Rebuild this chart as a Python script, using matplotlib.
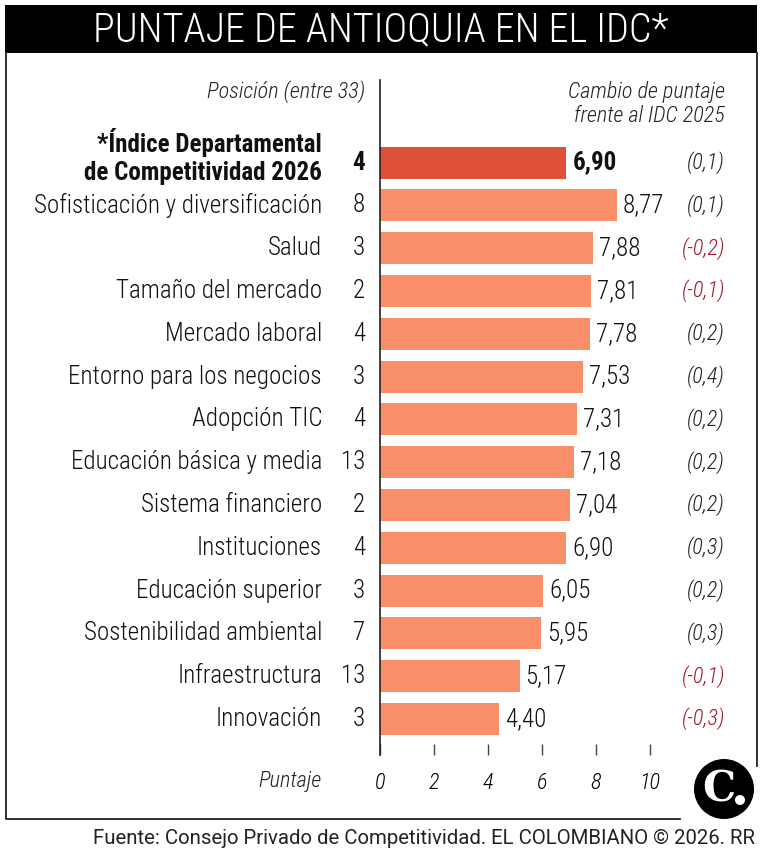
import matplotlib
matplotlib.use("Agg")
import matplotlib.pyplot as plt
from matplotlib import font_manager
from matplotlib.patches import Rectangle, Circle


def pick_font(names):
    for n in names:
        try:
            font_manager.findfont(n, fallback_to_default=False)
            return n
        except Exception:
            pass
    return "DejaVu Sans"


COND = pick_font(["Roboto Condensed", "Liberation Sans Narrow", "Roboto"])
REG = pick_font(["Roboto", "DejaVu Sans"])

categorias = [
    "*Índice Departamental\nde Competitividad 2026",
    "Sofisticación y diversificación",
    "Salud",
    "Tamaño del mercado",
    "Mercado laboral",
    "Entorno para los negocios",
    "Adopción TIC",
    "Educación básica y media",
    "Sistema financiero",
    "Instituciones",
    "Educación superior",
    "Sostenibilidad ambiental",
    "Infraestructura",
    "Innovación",
]
posicion = [4, 8, 3, 2, 4, 3, 4, 13, 2, 4, 3, 7, 13, 3]
puntaje = [6.90, 8.77, 7.88, 7.81, 7.78, 7.53, 7.31, 7.18, 7.04, 6.90, 6.05, 5.95, 5.17, 4.40]
cambio = [0.1, 0.1, -0.2, -0.1, 0.2, 0.4, 0.2, 0.2, 0.2, 0.3, 0.2, 0.3, -0.1, -0.3]
ticks = [0, 2, 4, 6, 8, 10]

W, H = 762, 859
fig = plt.figure(figsize=(W / 100, H / 100), dpi=100)

# overlay for frame, title, footer, logo (pixel coords)
bg = fig.add_axes([0, 0, 1, 1], zorder=0)
bg.set_xlim(0, W)
bg.set_ylim(H, 0)
bg.axis("off")
bg.add_patch(Rectangle((5, 5), 752, 48, color="black", lw=0))
bg.plot([6, 6, 680], [53, 819, 819], color="#222222", lw=1.3)
bg.plot([756.5, 756.5], [53, 766], color="#222222", lw=1.3)
bg.text(381, 30, "PUNTAJE DE ANTIOQUIA EN EL IDC*", color="white",
        fontsize=29, family=COND, weight="light", ha="center", va="center")
bg.text(755, 839, "Fuente: Consejo Privado de Competitividad. EL COLOMBIANO © 2026. RR",
        fontsize=14.7, family=REG, ha="right", va="center", color="#222222")
bg.add_patch(Circle((724, 789), 30, color="black", lw=0))
bg.text(719, 790, "C", color="white", fontsize=30, family="DejaVu Serif",
        weight="bold", ha="center", va="center")
bg.add_patch(Circle((740, 800), 5, color="white", lw=0))

# bar axes: x=0 at 380 px, 27 px per unit; rows at 162.5 + 42.8*i px
left, right, top, bottom = 380, 730, 80, 755
y0 = 162.5
ax = fig.add_axes([left / W, 1 - bottom / H, (right - left) / W, (bottom - top) / H], zorder=1)
ax.set_xlim(0, (right - left) / 27)
ax.set_ylim((bottom - y0) / 42.8, (top - y0) / 42.8)
ax.patch.set_alpha(0)
for s in ["top", "right", "bottom"]:
    ax.spines[s].set_visible(False)
ax.spines["left"].set_color("#222222")
ax.spines["left"].set_linewidth(1.2)
ax.set_yticks([])
ax.set_xticks(ticks)
ax.set_xticklabels([str(t) for t in ticks], family=COND, style="italic",
                   weight="light", fontsize=16)
ax.tick_params(axis="x", direction="in", length=8, width=1, color="#444444", pad=12)

px = 1 / 27  # one pixel in data units
py = 1 / 42.8
colors = ["#DE5039"] + ["#F98F68"] * (len(puntaje) - 1)
ax.barh(range(len(puntaje)), puntaje, height=32 / 42.8, color=colors, edgecolor="none")

for i, (cat, pos, val, ch) in enumerate(zip(categorias, posicion, puntaje, cambio)):
    bold = i == 0
    w = "bold" if bold else "light"
    ax.text(-58 * px, i - (6 * py if bold else 0), cat, ha="right", va="center",
            fontsize=18, family=COND, weight=w, clip_on=False, color="#111111",
            linespacing=1.2)
    ax.text(-15 * px, i, str(pos), ha="right", va="center", fontsize=18, family=COND,
            weight=w, clip_on=False, color="#111111")
    ax.text(val + 6 * px, i, f"{val:.2f}".replace(".", ","), ha="left", va="center",
            fontsize=18, family=COND, weight=w, color="#111111")
    ax.text(345 * px, i, f"({ch:.1f})".replace(".", ","), ha="right", va="center",
            fontsize=16, family=COND, style="italic", weight="light", clip_on=False,
            color="#A3182A" if ch < 0 else "#222222")

ax.text(-15 * px, (92 - y0) * py, "Posición (entre 33)", ha="right", va="center",
        fontsize=16, family=COND, style="italic", weight="light", clip_on=False,
        color="#222222")
ax.text(345 * px, (104 - y0) * py, "Cambio de puntaje\nfrente al IDC 2025", ha="right",
        va="center", fontsize=16, family=COND, style="italic", weight="light",
        clip_on=False, color="#222222", linespacing=1.15)
ax.text(-58 * px, (781 - y0) * py, "Puntaje", ha="right", va="center", fontsize=16,
        family=COND, style="italic", weight="light", clip_on=False, color="#222222")

fig.savefig("out.png", dpi=100)
